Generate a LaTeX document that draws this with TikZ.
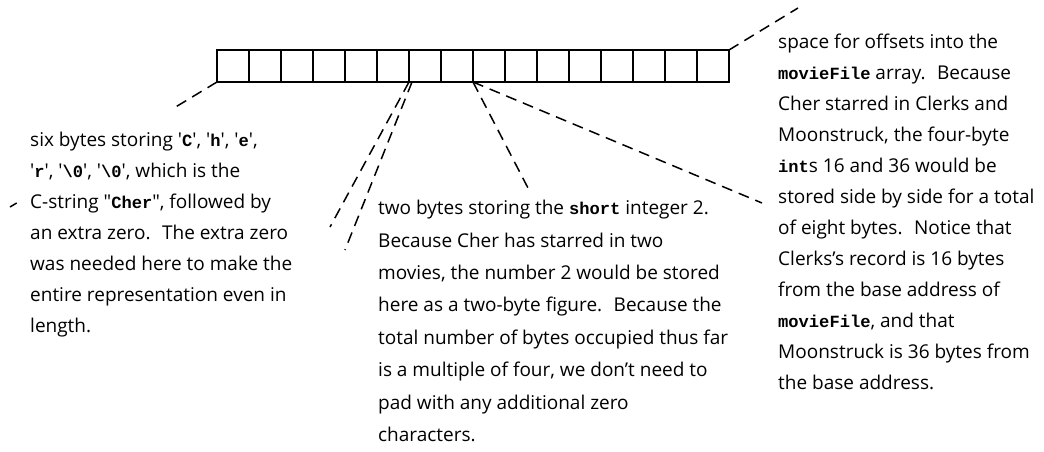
\documentclass[tikz,border=0pt]{standalone}
\usepackage{fontspec}
\setmainfont{Open Sans}
\newfontfamily\codefont[Scale=0.9]{Liberation Mono}
\usetikzlibrary{positioning}
\newcommand{\codeword}[1]{{\codefont\bfseries #1}}
\newcommand{\sq}{\textquotesingle}

\begin{document}
\begin{tikzpicture}[x=1pt,y=-1pt,
	cell/.style={draw=black,line width=1.3pt,minimum size=32pt,inner sep=0pt,outer sep=0pt},
	note/.style={anchor=north west,align=left,inner sep=0pt,fill=white,font=\fontsize{19}{31}\selectfont},
	pointer/.style={line width=1.5pt,dash pattern=on 11pt off 7pt}]
	\useasboundingbox (0,0) rectangle (1044,452);

	% the sixteen bytes of the record
	\foreach \i in {1,...,16}
		\node[cell] (b\i) at ({201+32*\i},66) {};

	\coordinate (charsend) at (10,207);
	\coordinate (shortendA) at (330,227);
	\coordinate (shortendB) at (345,250);
	\coordinate (shortendC) at (528,188);
	\coordinate (intsend) at (762,203);
	\coordinate (offsetsend) at (798,8);

	\draw[pointer] (b1.south west) -- (charsend);
	\draw[pointer] (b6.south east) -- (shortendA);
	\draw[pointer] ([xshift=3pt]b6.south east) -- (shortendB);
	\draw[pointer] (b8.south east) -- (shortendC);
	\draw[pointer] (b8.south east) -- (intsend);
	\draw[pointer] (b16.north east) -- (offsetsend);

	\node[note,inner xsep=11pt,inner ysep=24pt] (chars) at (19,108) {six bytes storing \sq\codeword{C}\sq, \sq\codeword{h}\sq, \sq\codeword{e}\sq,\\
		\sq\codeword{r}\sq, \sq\codeword{\textbackslash 0}\sq, \sq\codeword{\textbackslash 0}\sq, which is the\\
		C-string \textquotedbl\codeword{Cher}\textquotedbl, followed by\\
		an extra zero.~ The extra zero\\
		was needed here to make the\\
		entire representation even in\\
		length.};
	\node[note,font=\fontsize{19}{32.4}\selectfont] (short) at (378,200) {two bytes storing the \codeword{short} integer 2.\\
		Because Cher has starred in two\\
		movies, the number 2 would be stored\\
		here as a two-byte figure.~ Because the\\
		total number of bytes occupied thus far\\
		is a multiple of four, we don’t need to\\
		pad with any additional zero\\
		characters.};
	\node[note] (offsets) at (778,34) {space for offsets into the\\
		\codeword{movieFile} array.~ Because\\
		Cher starred in Clerks and\\
		Moonstruck, the four-byte\\
		\codeword{int}s 16 and 36 would be\\
		stored side by side for a total\\
		of eight bytes.~ Notice that\\
		Clerks’s record is 16 bytes\\
		from the base address of\\
		\codeword{movieFile}, and that\\
		Moonstruck is 36 bytes from\\
		the base address.};
\end{tikzpicture}
\end{document}
